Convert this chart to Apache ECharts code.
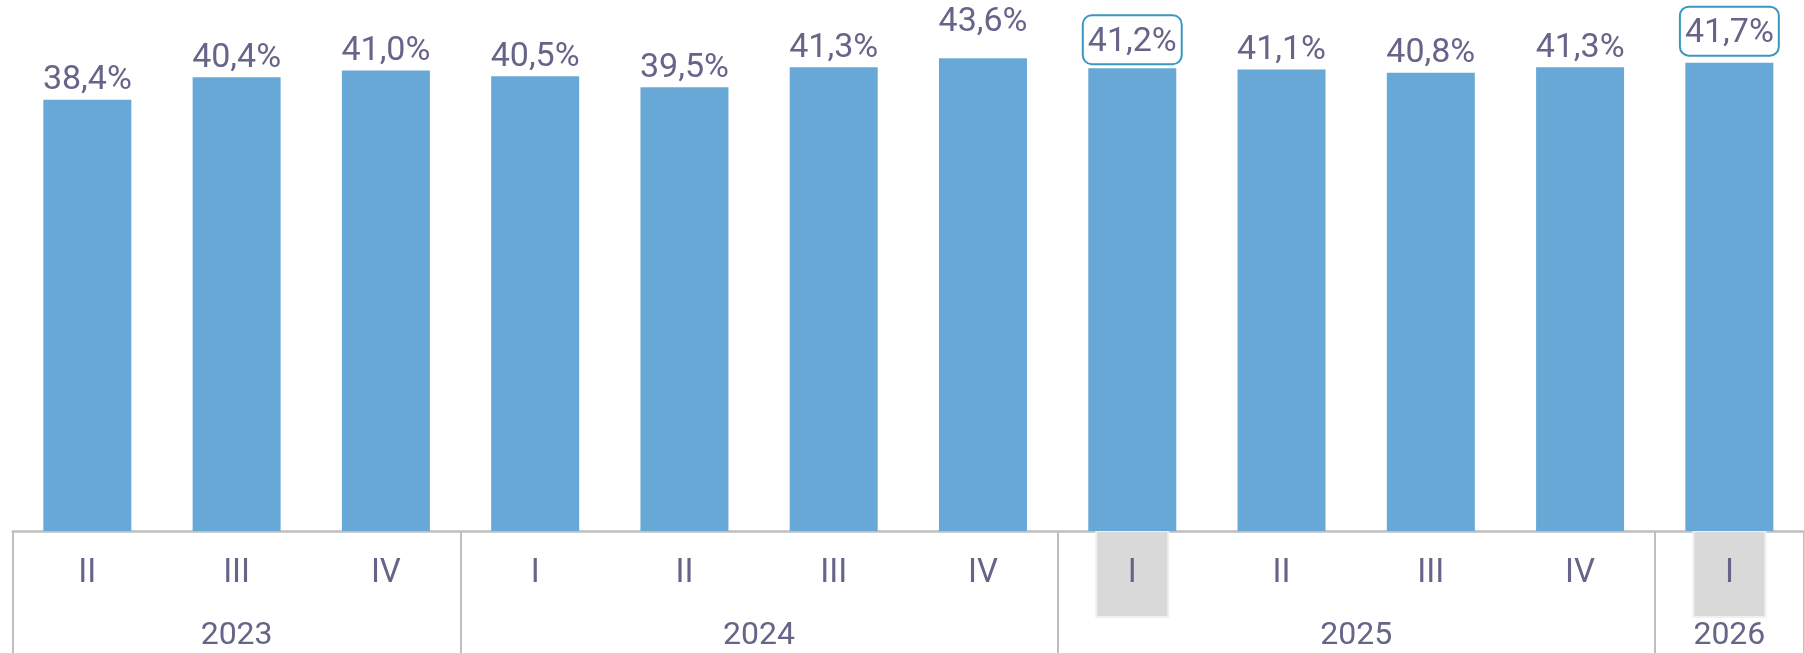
<!DOCTYPE html>
<html>
<head>
<meta charset="utf-8">
<script src="https://cdn.jsdelivr.net/npm/echarts@6/dist/echarts.min.js"></script>
<style>
  html, body { margin: 0; padding: 0; background: #fff; }
  #main { width: 1804px; height: 653px; }
</style>
</head>
<body>
<div id="main"></div>
<script>
// quarters shown on the x axis
const quarters = ["II", "III", "IV", "I", "II", "III", "IV", "I", "II", "III", "IV", "I"];
// years and how many quarters each one spans
const years = ["2023", "2024", "2025", "2026"];
const yearSizes = [3, 4, 4, 1];
// value printed above each bar
const shownValues = [38.4, 40.4, 41.0, 40.5, 39.5, 41.3, 43.6, 41.2, 41.1, 40.8, 41.3, 41.7];
// bar heights as drawn in the picture (the 43,6% bar is drawn lower)
const barValues = [38.4, 40.4, 41.0, 40.5, 39.5, 41.3, 42.1, 41.2, 41.1, 40.8, 41.3, 41.7];
// boxed items
const boxed = [7, 11];

const textColor = "#666589";
const lineColor = "#bfbfbf";
const font = "Roboto";

// group boundaries and centers on a 0..12 scale
let bounds = [0];
yearSizes.forEach((s) => bounds.push(bounds[bounds.length - 1] + s));
let centers = [];
for (let i = 0; i < years.length; i++) centers.push((bounds[i] + bounds[i + 1]) / 2);

const fmt = (v) => v.toFixed(1).replace(".", ",") + "%";

let labelData = shownValues.map((v, i) => {
  if (boxed.indexOf(i) < 0) return v;
  return {
    value: v,
    label: {
      borderColor: "#3a98c0",
      borderWidth: 2,
      borderRadius: 9,
      padding: [10, 5, 5, 5],
      distance: i == 11 ? 7 : 4,
    },
  };
});

var chart = echarts.init(document.getElementById("main"));
var option = {
  animation: false,
  grid: { left: 12.7, right: -6.3, top: 25.6, bottom: 122 },
  xAxis: [
    {
      type: "category",
      data: quarters,
      position: "bottom",
      axisLine: { show: true, lineStyle: { color: lineColor, width: 2.5 } },
      axisTick: { show: false },
      axisLabel: {
        margin: 1,
        interval: 0,
        fontSize: 33,
        fontFamily: font,
        color: textColor,
        formatter: (v, i) => (boxed.indexOf(i) >= 0 ? "{hl|" + v + "}" : "{n|" + v + "}"),
        rich: {
          n: {
            width: 70, height: 84, lineHeight: 84, align: "center",
            fontSize: 33, color: textColor, fontFamily: font,
          },
          hl: {
            width: 70, height: 84, lineHeight: 84, align: "center",
            fontSize: 33, color: textColor, fontFamily: font,
            backgroundColor: "#d9d9d9", borderColor: "#f0f0f0", borderWidth: 2,
          },
        },
      },
    },
    {
      type: "value",
      min: 0,
      max: 12,
      position: "bottom",
      axisLine: { show: false },
      splitLine: { show: false },
      axisTick: {
        show: true,
        customValues: bounds,
        length: 124,
        lineStyle: { color: lineColor, width: 2 },
      },
      axisLabel: {
        customValues: centers,
        margin: 89,
        fontSize: 32,
        color: textColor,
        fontFamily: font,
        formatter: (v) => years[centers.indexOf(v)],
      },
    },
  ],
  yAxis: { type: "value", min: 0, max: 45, show: false, splitLine: { show: false } },
  series: [
    {
      type: "bar",
      data: barValues,
      barWidth: 88,
      itemStyle: { color: "#68a8d6" },
      z: 2,
    },
    {
      type: "bar",
      data: labelData,
      barWidth: 88,
      barGap: "-100%",
      itemStyle: { color: "rgba(0,0,0,0)" },
      z: 3,
      label: {
        show: true,
        position: "top",
        distance: 2,
        fontSize: 34,
        color: textColor,
        fontFamily: font,
        formatter: (p) => fmt(p.value),
      },
    },
  ],
};
chart.setOption(option);
</script>
</body>
</html>
